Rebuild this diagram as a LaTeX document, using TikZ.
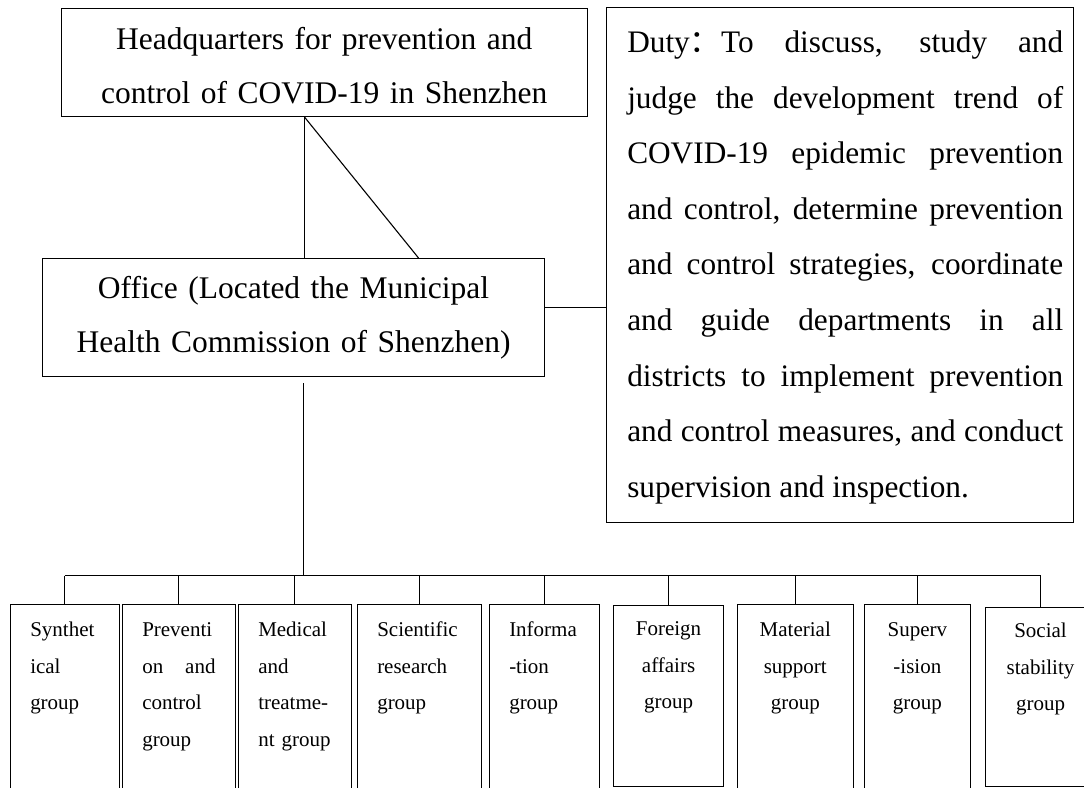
\documentclass[tikz,border=0pt]{standalone}
\usepackage{fontspec}
\setmainfont{Liberation Serif}
\newfontfamily\cjk{Noto Sans CJK SC}

\begin{document}
\begin{tikzpicture}[x=1pt, y=-1pt, line width=1.1pt,
    box/.style={draw, inner sep=0pt, anchor=north west},
    big/.style={box, font=\fontsize{31.5}{54}\selectfont, align=center},
    grp/.style={box, font=\fontsize{21}{36.5}\selectfont, text height=32.5pt, text depth=164pt},
    grpl/.style={grp, align=left, inner xsep=20pt},
    grpc/.style={grp, align=center}]
    \useasboundingbox (0,0) rectangle (1084,787);
    \clip (0,0) rectangle (1084,787);

    % Headquarters and office
    \node[big, text width=526.5pt, text height=41.3pt, text depth=66.7pt] (hq) at (60.5,8)
        {Headquarters for prevention and\\control of COVID-19 in Shenzhen};
    \node[big, text width=502pt, text height=39.7pt, text depth=78.3pt] (office) at (42,258)
        {Office (Located the Municipal\\Health Commission of Shenzhen)};

    % Duty box
    \node[box, font=\fontsize{31.3}{55.6}\selectfont, text height=45pt, text depth=470pt] (duty) at (606,7)
        {\hspace*{20.7pt}\parbox[t]{436pt}{Duty{\cjk ：}To discuss, study and\linebreak
         judge the development trend of\linebreak
         COVID-19 epidemic prevention\linebreak
         and control, determine prevention\linebreak
         and control strategies, coordinate\linebreak
         and guide departments in all\linebreak
         districts to implement prevention\linebreak
         and control measures, and conduct\linebreak
         supervision and inspection.}\hspace*{10.3pt}};

    % Groups
    \node[grpl, text width=69.3pt] (synth) at (9.7,603.5) {Synthet\\ical\\group};
    \node[grpl, text width=73.3pt] (prevent) at (121.7,603.5) {Preventi\\on\hfill and\\control\\group};
    \node[grpl, text width=73pt] (medical) at (237.7,603.5) {Medical\\and\\treatme-\\nt group};
    \node[grpl, text width=84pt] (science) at (356.7,603.5) {Scientific\\research\\group};
    \node[grpl, text width=70.6pt, text height=32pt] (info) at (488.7,604) {Informa\\-tion\\group};
    \node[grpc, text width=110.6pt, text height=30.5pt, text depth=151pt] (foreign) at (612.7,604.5) {Foreign\\affairs\\group};
    \node[grpc, text width=116pt] (material) at (736.7,603.5) {Material\\support\\group};
    \node[grpc, text width=105.7pt] (superv) at (864,603.5) {Superv\\-ision\\group};
    \node[grpc, text width=110pt, text height=29.7pt, text depth=149pt] (social) at (985,607.3) {Social\\stability\\group};

    % Connections
    \draw ([xshift=-19.75pt]hq.south) -- ([xshift=-19.75pt]hq.south |- office.north);
    \draw ([xshift=-19.75pt]hq.south) -- ([xshift=125pt]office.north);
    \draw ([yshift=10.3pt]office.east) -- ([yshift=10.3pt]office.east -| duty.west);

    \coordinate (bus) at (0,575.5);
    \draw ([xshift=10pt,yshift=-6pt]office.south) coordinate (trunk) -- (trunk |- bus);
    \draw (synth.north |- bus) -- (social.north |- bus);
    \foreach \g in {synth,prevent,medical,science,info,foreign,material,superv,social}
        \draw (\g.north |- bus) -- (\g.north);

\end{tikzpicture}
\end{document}
